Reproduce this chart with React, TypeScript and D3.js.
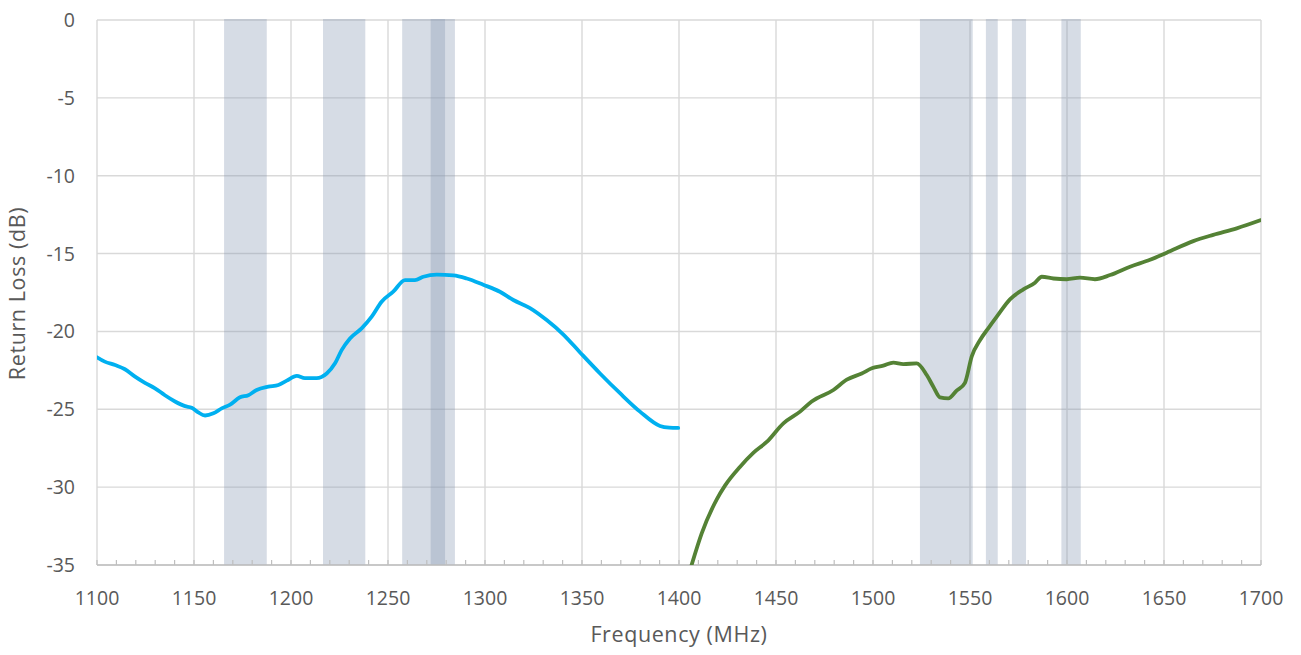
import React from "react";
import * as d3 from "d3";

const xTicks = [1100, 1150, 1200, 1250, 1300, 1350, 1400, 1450, 1500, 1550, 1600, 1650, 1700];
const yTicks = [0, -5, -10, -15, -20, -25, -30, -35];

// Shaded frequency bands [start MHz, end MHz]
const bandStarts = [1165.5, 1216.5, 1257.3, 1272.0, 1524.2, 1558.2, 1571.6, 1597.1];
const bandEnds = [1187.5, 1238.3, 1279.4, 1284.5, 1551.4, 1564.3, 1578.9, 1607.1];

// Low band series (MHz, dB)
const lowFreq = [1100, 1104, 1109.3, 1114.4, 1119.6, 1124.7, 1129.9, 1135, 1140.2, 1145.4, 1148.8, 1152.2, 1155.7, 1160, 1164.3, 1168.6, 1173.7, 1178, 1182.3, 1188.3, 1193.5, 1197.8, 1203, 1207.2, 1213.2, 1218.4, 1222.7, 1226.1, 1230.4, 1236.4, 1241.6, 1246.7, 1252.7, 1258.8, 1263.9, 1268.2, 1275.1, 1283.7, 1290.6, 1299.1, 1307.7, 1314.6, 1323.2, 1331.8, 1340.4, 1349, 1359.3, 1369.6, 1379.9, 1390.2, 1395, 1399.6];
const lowDb = [-21.66, -21.94, -22.16, -22.43, -22.9, -23.3, -23.65, -24.1, -24.5, -24.8, -24.9, -25.2, -25.4, -25.26, -24.94, -24.7, -24.23, -24.1, -23.76, -23.55, -23.44, -23.16, -22.86, -23.0, -23.0, -22.7, -22.05, -21.2, -20.45, -19.8, -19.05, -18.09, -17.45, -16.7, -16.7, -16.49, -16.35, -16.4, -16.6, -17.0, -17.45, -17.98, -18.5, -19.27, -20.2, -21.35, -22.7, -23.97, -25.15, -26.07, -26.18, -26.2];

// High band series (MHz, dB)
const highFreq = [1406.5, 1411.7, 1419.4, 1423.7, 1431.4, 1438.3, 1445.2, 1453.8, 1462.4, 1468.4, 1479.6, 1486.5, 1494.2, 1499.4, 1505.3, 1510.5, 1515.6, 1522.5, 1527.7, 1531.1, 1534.5, 1538.8, 1543.1, 1547.4, 1550.9, 1555.2, 1559.4, 1563.8, 1570.6, 1577.5, 1583.5, 1587, 1593, 1599.8, 1606.7, 1614.4, 1622.2, 1632.5, 1642.8, 1651.4, 1665.1, 1675.4, 1687.5, 1700];
const highDb = [-35.0, -32.97, -30.8, -29.9, -28.7, -27.8, -27.1, -25.9, -25.15, -24.5, -23.76, -23.1, -22.7, -22.37, -22.2, -22.0, -22.1, -22.05, -22.8, -23.55, -24.23, -24.3, -23.8, -23.3, -21.6, -20.55, -19.8, -19.05, -17.94, -17.3, -16.87, -16.49, -16.6, -16.65, -16.55, -16.65, -16.38, -15.84, -15.4, -14.94, -14.2, -13.8, -13.38, -12.85];

const W = 1301;
const H = 655;
const left = 97;
const right = 1261;
const top = 20;
const bottom = 565;

export default function App() {
  const x = d3.scaleLinear().domain([1100, 1700]).range([left, right]);
  const y = d3.scaleLinear().domain([-35, 0]).range([bottom, top]);
  const line = d3
    .line<[number, number]>()
    .x((d) => x(d[0]))
    .y((d) => y(d[1]))
    .curve(d3.curveMonotoneX);

  const low: [number, number][] = lowFreq.map((f, i) => [f, lowDb[i]]);
  const high: [number, number][] = highFreq.map((f, i) => [f, highDb[i]]);
  const minorTicks = d3.range(1100, 1701, 10);
  const font = "'Open Sans', 'Liberation Sans', sans-serif";
  const textColor = "#595959";

  return (
    <svg
      width={W}
      height={H}
      style={{ position: "absolute", left: 0, top: 0, background: "#fff" }}
      fontFamily={font}
    >
      <defs>
        <clipPath id="plot">
          <rect x={left} y={top} width={right - left} height={bottom - top} />
        </clipPath>
      </defs>
      {/* gridlines */}
      {yTicks.map((t) => (
        <line key={"hy" + t} x1={left} x2={right} y1={y(t)} y2={y(t)} stroke="#d9d9d9" strokeWidth={1.4} />
      ))}
      {xTicks.map((t) => (
        <line key={"vx" + t} x1={x(t)} x2={x(t)} y1={top} y2={bottom} stroke="#d9d9d9" strokeWidth={1.4} />
      ))}
      {/* bands */}
      {bandStarts.map((s, i) => (
        <rect
          key={"b" + i}
          x={x(s)}
          y={top - 1}
          width={x(bandEnds[i]) - x(s)}
          height={bottom - top + 1}
          fill="#8496b0"
          fillOpacity={0.33}
        />
      ))}
      {/* bottom axis */}
      <line x1={left} x2={right} y1={bottom} y2={bottom} stroke="#bfbfbf" strokeWidth={1.4} />
      {minorTicks.map((t) => (
        <line key={"mt" + t} x1={x(t)} x2={x(t)} y1={bottom - 5} y2={bottom} stroke="#bfbfbf" strokeWidth={1.2} />
      ))}
      {/* series */}
      <g clipPath="url(#plot)">
        <path d={line(low) || ""} fill="none" stroke="#00b0f0" strokeWidth={3.8} strokeLinejoin="round" strokeLinecap="round" />
        <path d={line(high) || ""} fill="none" stroke="#548235" strokeWidth={3.8} strokeLinejoin="round" strokeLinecap="round" />
      </g>
      {/* tick labels */}
      {xTicks.map((t) => (
        <text key={"xl" + t} x={x(t)} y={605} textAnchor="middle" fontSize={19.5} fill={textColor}>
          {t}
        </text>
      ))}
      {yTicks.map((t) => (
        <text key={"yl" + t} x={75} y={y(t) + 7} textAnchor="end" fontSize={19.5} fill={textColor}>
          {t}
        </text>
      ))}
      {/* axis titles */}
      <text x={679} y={642} textAnchor="middle" fontSize={21.5} letterSpacing={0.6} fill={textColor}>
        Frequency (MHz)
      </text>
      <text
        transform={`translate(25, ${(top + bottom) / 2 + 1}) rotate(-90)`}
        textAnchor="middle"
        fontSize={21.5}
        letterSpacing={0.6}
        fill={textColor}
      >
        Return Loss (dB)
      </text>
    </svg>
  );
}
